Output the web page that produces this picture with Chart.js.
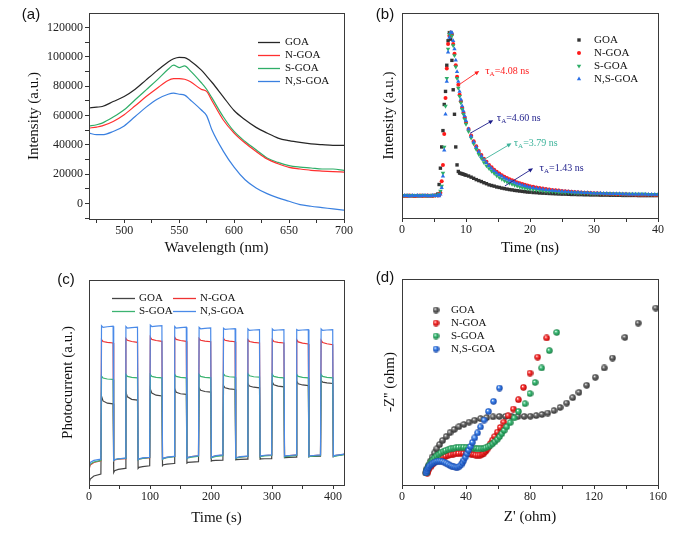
<!DOCTYPE html>
<html><head><meta charset="utf-8">
<script src="https://cdn.jsdelivr.net/npm/chart.js@4.4.0/dist/chart.umd.min.js"></script>
<style>
html,body{margin:0;padding:0;background:#fff;}
#wrap{position:relative;width:683px;height:538px;overflow:hidden;background:#fff;}
canvas{position:absolute;left:0;top:0;}
</style></head><body>
<div id="wrap">
<canvas id="ca" width="683" height="538"></canvas>
<canvas id="cb" width="683" height="538"></canvas>
<canvas id="cc" width="683" height="538"></canvas>
<canvas id="cd" width="683" height="538"></canvas>
</div>
<script>
// ================= DATA =================
const seriesNames = ['GOA', 'N-GOA', 'S-GOA', 'N,S-GOA'];

// tick values (labels are shown on the major ones)
const aXTicks = [475,500,525,550,575,600,625,650,675,700];
const aYTicks = [-10000,0,10000,20000,30000,40000,50000,60000,70000,80000,90000,100000,110000,120000];
const bXTicks = [0,5,10,15,20,25,30,35,40];
const cXTicks = [0,50,100,150,200,250,300,350,400];
const dXTicks = [0,20,40,60,80,100,120,140,160];

// (a) PL spectra
const plWavelength = [468,475,480,490,500,510,520,530,540,545,550,555,560,570,575,580,590,600,610,620,630,640,650,660,670,680,690,700];
const plGOA  = [65200,65800,66200,69600,73000,78000,84400,90700,96600,98800,99800,99600,97500,91200,87000,82600,73000,63500,57200,52000,48100,44700,42900,41700,40800,40200,39700,39700];
const plNGOA = [51500,52200,53000,56000,60600,66700,73000,78700,84000,85200,85300,84800,83300,78000,76500,70000,57200,48100,41300,35600,30400,27200,24700,23600,22700,22200,21800,21500];
const plSGOA = [53000,53800,54900,59000,64000,70800,77600,84400,91600,94400,92800,93900,90700,82600,78000,71900,59400,49200,42400,36700,31100,28100,25900,24900,24300,23600,23600,22700];
const plNSGOA= [48100,47000,47000,49200,53000,59400,65800,71200,74600,75300,74600,74000,70800,64000,60000,50000,36000,24900,16300,10700,6800,3900,1600,-700,-1800,-2700,-3600,-4500];

// (b) TRPL decay (normalised intensity)
const trTime = [0,0.4,0.8,1.2,1.6,2.0,2.4,2.8,3.2,3.6,4.0,4.4,4.8,5.2,5.6,
  5.8,6.0,6.2,6.4,6.6,6.8,7.0,7.2,7.4,7.6,7.8,8.0,8.2,8.4,8.6,8.8,9.0,9.2,9.4,9.6,9.8,10.0,
  10.4,10.8,11.2,11.6,12.0,12.4,12.8,13.2,13.6,14.0,14.4,14.8,15.2,15.6,16.0,16.4,16.8,17.2,17.6,18.0,18.4,18.8,19.2,19.6,20.0,
  20.5,21,21.5,22,22.5,23,23.5,24,24.5,25,25.5,26,26.5,27,27.5,28,28.5,29,29.5,30,30.5,31,31.5,32,32.5,33,33.5,34,34.5,35,35.5,36,36.5,37,37.5,38,38.5,39,39.5,40];
const trGOA = [0.002,0.001,0.003,0.001,0.002,0.000,0.002,0.001,0.003,0.002,0.001,0.002,0.003,0.004,0.012,
  0.07,0.17,0.30,0.40,0.56,0.64,0.80,0.95,1.00,0.96,0.83,0.65,0.50,0.30,0.19,0.15,0.14,0.138,0.135,0.133,0.130,0.127,
  0.122,0.115,0.108,0.100,0.094,0.088,0.081,0.075,0.068,0.064,0.060,0.055,0.052,0.048,0.045,0.042,0.039,0.037,0.034,0.032,0.030,0.028,0.026,0.024,0.023,
  0.021,0.020,0.018,0.017,0.016,0.015,0.014,0.013,0.012,0.011,0.011,0.010,0.009,0.009,0.008,0.008,0.007,0.007,0.006,0.006,
  0.006,0.005,0.005,0.005,0.004,0.004,0.004,0.004,0.003,0.003,0.003,0.003,0.003,0.002,0.002,0.002,0.002,0.002,0.002,0.002];
const trNGOA = [0.000,0.001,0.000,0.002,0.001,0.000,0.001,0.002,0.000,0.001,0.002,0.001,0.000,0.002,0.003,
  0.005,0.02,0.09,0.19,0.38,0.60,0.78,0.93,0.98,1.00,0.99,0.93,0.87,0.80,0.73,0.68,0.62,0.58,0.54,0.51,0.48,0.45,
  0.41,0.37,0.335,0.305,0.275,0.25,0.228,0.21,0.19,0.175,0.16,0.148,0.138,0.126,0.118,0.11,0.102,0.096,0.09,0.083,0.078,0.073,0.068,0.064,0.06,
  0.056,0.052,0.049,0.046,0.043,0.040,0.037,0.035,0.033,0.031,0.029,0.027,0.026,0.024,0.023,0.021,0.020,0.019,0.018,0.017,
  0.016,0.015,0.014,0.013,0.013,0.012,0.011,0.011,0.010,0.010,0.009,0.009,0.008,0.008,0.008,0.007,0.007,0.007,0.006,0.006];
const trSGOA = [0.003,0.004,0.003,0.004,0.003,0.004,0.003,0.004,0.003,0.004,0.003,0.004,0.003,0.004,0.006,
  0.01,0.03,0.06,0.14,0.30,0.55,0.72,0.90,0.99,1.00,0.98,0.92,0.86,0.79,0.72,0.66,0.61,0.57,0.53,0.50,0.47,0.44,
  0.395,0.355,0.32,0.285,0.255,0.23,0.205,0.185,0.168,0.152,0.138,0.125,0.113,0.103,0.094,0.086,0.079,0.072,0.066,0.061,0.056,0.052,0.048,0.045,0.042,
  0.039,0.036,0.034,0.032,0.030,0.028,0.027,0.025,0.024,0.023,0.022,0.021,0.020,0.019,0.019,0.018,0.017,0.017,0.016,0.016,
  0.015,0.015,0.014,0.014,0.014,0.013,0.013,0.013,0.012,0.012,0.012,0.012,0.011,0.011,0.011,0.011,0.010,0.010,0.010,0.010];
const trNSGOA = [0.001,0.002,0.001,0.000,0.002,0.001,0.002,0.000,0.001,0.002,0.001,0.000,0.002,0.001,0.002,
  0.00,0.01,0.05,0.12,0.28,0.50,0.70,0.88,0.97,1.00,1.00,0.95,0.90,0.83,0.76,0.70,0.64,0.59,0.55,0.52,0.49,0.46,
  0.41,0.365,0.33,0.30,0.27,0.245,0.222,0.203,0.185,0.168,0.154,0.141,0.13,0.12,0.11,0.102,0.095,0.088,0.082,0.076,0.071,0.066,0.062,0.058,0.054,
  0.050,0.047,0.044,0.041,0.038,0.036,0.034,0.032,0.030,0.028,0.027,0.025,0.024,0.023,0.022,0.021,0.020,0.019,0.018,0.017,
  0.016,0.016,0.015,0.015,0.014,0.014,0.013,0.013,0.012,0.012,0.011,0.011,0.011,0.010,0.010,0.010,0.009,0.009,0.009,0.009];
const trLifetimes = ['=4.08 ns', '=4.60 ns', '=3.79 ns', '=1.43 ns'];

// (c) transient photocurrent (arbitrary units)
const pcTime = [0,2,8,19.5,20.5,23,30,39.5,
  40.5,42,48,59.5,60.5,63,70,79.5,
  80.5,82,88,99.5,100.5,103,110,119.5,
  120.5,122,128,139.5,140.5,143,150,159.5,
  160.5,162,168,179.5,180.5,183,190,199.5,
  200.5,202,208,219.5,220.5,223,230,239.5,
  240.5,242,248,259.5,260.5,263,270,279.5,
  280.5,282,288,299.5,300.5,303,310,319.5,
  320.5,322,328,339.5,340.5,343,350,359.5,
  360.5,362,368,379.5,380.5,383,390,399.5,
  400.5,402,410,418];
const pcGOA = [1.0,2.9,4.4,5.3,43.4,41.0,39.9,39.6,
  6.1,7.0,7.6,8.1,45.3,43.0,41.8,41.4,
  8.1,8.6,9.0,9.4,46.9,44.8,43.8,43.4,
  9.4,9.9,10.2,10.5,46.9,45.2,44.5,44.2,
  10.7,11.0,11.2,11.4,47.4,46.2,45.6,45.3,
  11.7,11.9,12.0,12.1,48.5,47.4,46.9,46.6,
  12.3,12.4,12.5,12.6,49.4,48.3,47.7,47.4,
  12.6,12.7,12.8,12.9,50.2,48.9,48.2,47.9,
  13.3,13.4,13.5,13.6,50.6,49.4,48.8,48.5,
  13.8,13.9,14.0,14.1,51.0,50.2,49.8,49.5,
  14.2,14.4,14.6,14.9];
const pcNGOA = [7.4,9.8,11.0,11.8,70.9,70.0,69.6,69.3,
  11.8,12.2,12.6,12.9,71.5,70.6,70.0,69.6,
  12.3,12.7,13.0,13.3,72.2,71.0,70.5,70.1,
  12.6,13.0,13.5,13.9,72.0,71.0,70.5,70.1,
  12.9,13.4,13.8,14.2,71.5,70.6,70.2,69.9,
  13.3,13.7,14.2,14.6,71.5,70.6,70.2,69.9,
  13.0,13.3,13.7,14.0,70.9,70.0,69.6,69.3,
  13.9,14.1,14.4,14.6,70.9,70.0,69.6,69.3,
  13.9,14.1,14.3,14.6,70.9,69.8,69.2,68.8,
  13.9,14.1,14.3,14.6,70.6,69.5,68.9,68.4,
  13.9,14.2,14.6,15.0];
const pcSGOA = [8.2,10.2,11.2,12.0,53.1,52.2,51.7,51.5,
  11.9,12.3,12.7,13.0,53.9,53.0,52.5,52.3,
  12.2,12.6,13.0,13.4,53.9,53.0,52.5,52.3,
  12.5,12.9,13.4,13.8,53.9,53.0,52.5,52.3,
  12.8,13.2,13.6,14.0,53.9,53.0,52.5,52.3,
  13.1,13.5,14.0,14.3,54.2,53.3,52.8,52.6,
  12.9,13.2,13.6,13.9,54.2,53.3,52.8,52.6,
  13.6,13.9,14.2,14.4,53.9,53.0,52.5,52.3,
  13.6,13.9,14.1,14.4,53.9,53.0,52.5,52.3,
  13.7,13.9,14.1,14.4,53.9,53.0,52.5,52.3,
  13.8,14.0,14.4,14.8];
const pcNSGOA = [9.1,11.0,12.0,12.6,77.7,76.9,77.2,77.5,
  12.0,12.4,12.8,13.1,77.3,76.5,76.8,77.0,
  12.4,12.8,13.2,13.5,78.0,77.3,77.5,77.7,
  12.7,13.1,13.6,14.0,77.3,76.5,76.8,77.0,
  13.0,13.5,13.9,14.3,76.9,76.2,76.4,76.6,
  13.3,13.8,14.3,14.7,76.5,75.9,76.1,76.3,
  13.1,13.4,13.8,14.1,76.1,75.4,75.6,75.8,
  14.0,14.2,14.5,14.7,76.1,75.4,75.6,75.8,
  14.0,14.2,14.4,14.7,75.8,75.4,75.6,75.8,
  14.0,14.2,14.4,14.7,76.1,75.4,75.6,75.8,
  14.0,14.3,14.7,15.1];

// (d) Nyquist plots, Z' and -Z'' in ohm
const eisGOA_re = [14.8,15.6,16.6,17.7,18.8,20.2,21.8,23.5,25.4,27.6,30.0,32.6,35.6,38.7,41.9,45.4,49.1,53.0,56.9,60.8,64.7,68.6,72.5,76.4,80.2,83.9,87.5,91.1,95.0,98.8,102.9,106.7,110.6,115.4,120.8,126.4,131.6,139.3,147.6,158.6];
const eisGOA_im = [7.6,10.0,12.3,14.9,17.4,20.0,22.6,25.2,27.8,30.2,32.6,34.6,36.4,37.8,39.2,40.4,41.4,42.1,42.5,42.8,42.8,42.8,42.8,42.8,42.9,43.3,44.0,44.9,46.4,48.4,51.1,54.5,57.8,62.2,67.2,73.0,79.2,92.1,101.0,110.4];
const eisN_re = [15.8,16.2,16.8,17.5,18.3,19.3,20.4,21.6,22.9,24.3,25.8,27.3,28.9,30.5,32.1,33.7,35.3,36.9,38.5,40.1,41.7,43.2,44.7,46.1,47.5,48.8,50.0,51.2,52.3,53.3,54.3,55.4,56.6,58.0,59.6,61.4,63.6,66.3,69.6,72.8,75.9,80.0,84.8,90.4];
const eisN_im = [7.4,8.6,9.8,11.0,12.1,13.2,14.2,15.1,15.9,16.6,17.3,17.9,18.4,18.8,19.2,19.5,19.7,19.8,19.8,19.7,19.5,19.2,18.9,18.7,18.6,18.7,19.1,19.9,21.0,22.4,24.0,25.9,28.0,30.3,33.0,35.9,39.2,43.2,47.4,53.2,60.9,69.8,79.8,91.7];
const eisS_re = [15.2,15.6,16.1,16.7,17.4,18.3,19.3,20.4,21.6,22.9,24.3,25.8,27.3,28.9,30.5,32.1,33.7,35.3,36.9,38.5,40.1,41.7,43.3,44.9,46.5,48.0,49.5,51.0,52.4,53.8,55.1,56.6,58.1,59.6,61.0,62.4,63.8,65.5,67.6,70.1,72.8,76.9,80.0,83.2,87.3,92.1,96.7];
const eisS_im = [7.6,8.9,10.3,11.7,13.1,14.5,15.8,17.0,18.1,19.1,20.0,20.8,21.5,22.1,22.6,23.0,23.3,23.5,23.6,23.6,23.5,23.3,23.1,22.9,22.7,22.6,22.6,22.8,23.2,23.8,24.6,25.7,27.0,28.5,30.2,32.0,34.0,36.3,38.9,41.8,45.9,50.7,57.0,64.0,73.0,83.8,95.2];
const eisNS_re = [15.0,15.4,15.9,16.6,17.4,18.3,19.3,20.4,21.6,22.8,24.0,25.2,26.4,27.6,28.8,30.0,31.2,32.4,33.6,34.8,35.9,36.9,37.8,38.7,39.6,40.6,41.6,42.7,44.0,45.5,47.2,49.1,51.3,54.0,57.2,60.9];
const eisNS_im = [7.6,8.8,10.0,11.1,12.1,13.0,13.7,14.3,14.7,14.9,14.9,14.7,14.3,13.7,13.0,12.3,11.7,11.3,11.1,11.2,11.7,12.6,13.9,15.5,17.4,19.5,21.7,24.0,26.6,29.4,32.5,36.2,40.5,45.9,52.2,60.5];

// ================= STYLE / HELPERS =================
const SERIF = '"Liberation Serif","Times New Roman",serif';
const SANS = '"Liberation Sans",Arial,sans-serif';
Chart.defaults.font.family = SERIF;
Chart.defaults.color = '#111';
const PW = 683, PH = 538;

function padFor(area, yW, xH) {
  return {left: area.l - yW, top: area.t, right: PW - area.r, bottom: PH - area.b - xH};
}
function xy(xs, ys) { return xs.map((v, i) => ({x: v, y: ys[i]})); }
const majorLabel = (every) => (v) => (Math.abs(v % every) < 1e-6 ? String(v) : '');

function xAxis(o) {
  return {
    type: 'linear', position: 'bottom', min: o.min, max: o.max,
    afterBuildTicks: (s) => { s.ticks = o.ticks.map(v => ({value: v})); },
    ticks: {autoSkip: false, maxRotation: 0, minRotation: 0, padding: 1,
      font: {family: SERIF, size: 12}, color: '#222', callback: majorLabel(o.every)},
    grid: {display: true, drawOnChartArea: false, drawTicks: true, tickLength: 4, tickColor: '#333', tickWidth: 1},
    border: {display: false},
    title: {display: true, text: o.title, font: {family: SERIF, size: 15}, color: '#111', padding: {top: 0, bottom: o.tpb}},
    afterFit: (s) => { s.height = o.h; }
  };
}
function yAxisBare(o) {
  return {
    type: 'linear', position: 'left', min: o.min, max: o.max,
    ticks: {display: false}, grid: {display: false}, border: {display: false},
    title: {display: true, text: o.title, font: {family: SERIF, size: 15}, color: '#111', padding: {top: o.tpt, bottom: 0}},
    afterFit: (s) => { s.width = o.w; }
  };
}

const decor = {
  id: 'decor',
  afterDraw(chart, args, o) {
    const ctx = chart.ctx, a = chart.chartArea;
    ctx.save();
    ctx.strokeStyle = '#3a3a3a'; ctx.lineWidth = 1;
    ctx.strokeRect(Math.round(a.left) + 0.5, Math.round(a.top) + 0.5, Math.round(a.right - a.left), Math.round(a.bottom - a.top));
    if (o.label) {
      ctx.font = '15px ' + SANS; ctx.fillStyle = '#111'; ctx.textAlign = 'center'; ctx.textBaseline = 'middle';
      ctx.fillText(o.label.text, o.label.x, o.label.y);
    }
    if (o.legend) {
      const L = o.legend;
      ctx.font = L.size + 'px ' + SERIF; ctx.textBaseline = 'middle'; ctx.textAlign = 'left';
      chart.data.datasets.forEach((ds, i) => {
        const p = L.items[i]; if (!p) return;
        if (L.kind === 'line') {
          ctx.strokeStyle = ds.borderColor; ctx.lineWidth = 1.3;
          ctx.beginPath(); ctx.moveTo(p.x, p.y + 0.5); ctx.lineTo(p.x + L.len, p.y + 0.5); ctx.stroke();
        } else {
          ctx.fillStyle = ds.backgroundColor;
          Chart.helpers.drawPoint(ctx, {pointStyle: ds.pointStyle, radius: ds.pointRadius, rotation: ds.pointRotation || 0, borderWidth: 0}, p.x, p.y);
        }
        ctx.fillStyle = '#111';
        ctx.fillText(ds.label, p.x + L.dx, p.y);
      });
    }
    if (o.notes) {
      const xs = chart.scales.x, ys = chart.scales.y;
      o.notes.forEach(n => {
        const x1 = xs.getPixelForValue(n.from[0]), y1 = ys.getPixelForValue(n.from[1]);
        const x2 = xs.getPixelForValue(n.to[0]), y2 = ys.getPixelForValue(n.to[1]);
        const ang = Math.atan2(y2 - y1, x2 - x1), hl = 5;
        ctx.strokeStyle = n.color; ctx.fillStyle = n.color; ctx.lineWidth = 0.9;
        ctx.beginPath(); ctx.moveTo(x1, y1); ctx.lineTo(x2 - hl * 0.7 * Math.cos(ang), y2 - hl * 0.7 * Math.sin(ang)); ctx.stroke();
        ctx.beginPath(); ctx.moveTo(x2, y2);
        ctx.lineTo(x2 - hl * Math.cos(ang - 0.45), y2 - hl * Math.sin(ang - 0.45));
        ctx.lineTo(x2 - hl * Math.cos(ang + 0.45), y2 - hl * Math.sin(ang + 0.45));
        ctx.closePath(); ctx.fill();
        let tx = xs.getPixelForValue(n.at[0]); const ty = ys.getPixelForValue(n.at[1]);
        ctx.textBaseline = 'middle'; ctx.textAlign = 'left';
        ctx.font = '11px ' + SERIF; ctx.fillText('τ', tx, ty); tx += ctx.measureText('τ').width;
        ctx.font = '7px ' + SERIF; ctx.fillText('A', tx, ty + 3); tx += ctx.measureText('A').width;
        ctx.font = '10px ' + SERIF; ctx.fillText(n.text, tx, ty);
      });
    }
    ctx.restore();
  }
};

const common = {responsive: false, animation: false, events: [], devicePixelRatio: 1};

// ================= (a) =================
const colA = ['#262626', '#ff3030', '#2fae68', '#3a80e0'];
const areaA = {l: 89, t: 13, r: 344, b: 219};
new Chart(document.getElementById('ca'), {
  type: 'line',
  data: {datasets: [plGOA, plNGOA, plSGOA, plNSGOA].map((ys, i) => ({
    label: seriesNames[i], data: xy(plWavelength, ys), borderColor: colA[i], backgroundColor: colA[i],
    borderWidth: 1.2, pointRadius: 0, tension: 0.35, cubicInterpolationMode: 'monotone'}))},
  options: Object.assign({}, common, {
    layout: {padding: padFor(areaA, 89, 42)},
    scales: {
      x: xAxis({min: 468, max: 700, ticks: aXTicks, every: 50, title: 'Wavelength (nm)', tpb: 4, h: 42}),
      y: {type: 'linear', position: 'left', min: -10500, max: 130000,
        afterBuildTicks: (s) => { s.ticks = aYTicks.map(v => ({value: v})); },
        ticks: {autoSkip: false, padding: 2, font: {family: SERIF, size: 12}, color: '#222', callback: majorLabel(20000)},
        grid: {display: true, drawOnChartArea: false, drawTicks: true, tickLength: 4, tickColor: '#333'},
        border: {display: false},
        title: {display: true, text: 'Intensity (a.u.)', font: {family: SERIF, size: 15}, color: '#111', padding: {top: 25, bottom: 0}},
        afterFit: (s) => { s.width = 89; }}
    },
    plugins: {legend: {display: false}, tooltip: {enabled: false},
      decor: {label: {text: '(a)', x: 31, y: 15},
        legend: {kind: 'line', size: 11, len: 22, dx: 27, items: [{x: 258, y: 42}, {x: 258, y: 55}, {x: 258, y: 68}, {x: 258, y: 81}]}}}
  }),
  plugins: [decor]
});

// ================= (b) =================
const colB = ['#333333', '#ff1a1a', '#2fae68', '#2a6fe6'];
const styleB = ['rect', 'circle', 'triangle', 'triangle'];
const rotB = [0, 0, 180, 0];
const radB = [2.4, 2.0, 2.6, 2.5];
const areaB = {l: 402, t: 13, r: 658, b: 218};
new Chart(document.getElementById('cb'), {
  type: 'scatter',
  data: {datasets: [trGOA, trNGOA, trSGOA, trNSGOA].map((ys, i) => ({
    label: seriesNames[i], data: xy(trTime, ys), borderColor: colB[i], backgroundColor: colB[i], borderWidth: 0,
    pointStyle: styleB[i], pointRotation: rotB[i], pointRadius: radB[i], order: 4 - i}))},
  options: Object.assign({}, common, {
    layout: {padding: padFor(areaB, 40, 42)},
    scales: {
      x: xAxis({min: 0, max: 40, ticks: bXTicks, every: 10, title: 'Time (ns)', tpb: 3, h: 42}),
      y: yAxisBare({min: -0.135, max: 1.12, title: 'Intensity (a.u.)', tpt: 18, w: 40})
    },
    plugins: {legend: {display: false}, tooltip: {enabled: false},
      decor: {label: {text: '(b)', x: 385, y: 15},
        legend: {kind: 'point', size: 11, dx: 15, items: [{x: 579, y: 40}, {x: 579, y: 53}, {x: 579, y: 66}, {x: 579, y: 79}]},
        notes: [
          {from: [8.8, 0.678], to: [12.07, 0.765], at: [13.0, 0.765], color: '#ff2020', text: trLifetimes[0]},
          {from: [10.62, 0.383], to: [14.25, 0.464], at: [14.8, 0.475], color: '#1c1c8a', text: trLifetimes[1]},
          {from: [12.7, 0.22], to: [17.1, 0.322], at: [17.45, 0.322], color: '#3cb39a', text: trLifetimes[2]},
          {from: [16.07, 0.061], to: [20.47, 0.169], at: [21.5, 0.169], color: '#1c1c8a', text: trLifetimes[3]}
        ]}}
  }),
  plugins: [decor]
});

// ================= (c) =================
const colC = ['#454545', '#ee3333', '#3cb371', '#4a8ae8'];
const areaC = {l: 89, t: 280, r: 344, b: 485};
new Chart(document.getElementById('cc'), {
  type: 'line',
  data: {datasets: [pcGOA, pcNGOA, pcSGOA, pcNSGOA].map((ys, i) => ({
    label: seriesNames[i], data: xy(pcTime, ys), borderColor: colC[i], backgroundColor: colC[i],
    borderWidth: 1.2, pointRadius: 0, tension: 0, order: 4 - i}))},
  options: Object.assign({}, common, {
    layout: {padding: padFor(areaC, 50, 42)},
    scales: {
      x: xAxis({min: 0, max: 418, ticks: cXTicks, every: 100, title: 'Time (s)', tpb: 0, h: 42}),
      y: yAxisBare({min: 0, max: 100, title: 'Photocurrent (a.u.)', tpt: 20, w: 50})
    },
    plugins: {legend: {display: false}, tooltip: {enabled: false},
      decor: {label: {text: '(c)', x: 66, y: 280},
        legend: {kind: 'line', size: 11, len: 23, dx: 27, items: [{x: 112, y: 298}, {x: 173, y: 298}, {x: 112, y: 311}, {x: 173, y: 311}]}}}
  }),
  plugins: [decor]
});

// ================= (d) =================
function sphere(color, dark) {
  const c = document.createElement('canvas'); c.width = 7; c.height = 7;
  const g = c.getContext('2d');
  const grad = g.createRadialGradient(2.5, 2.3, 0.2, 3.5, 3.5, 3.4);
  grad.addColorStop(0, '#ffffff'); grad.addColorStop(0.35, color); grad.addColorStop(1, dark);
  g.fillStyle = grad; g.beginPath(); g.arc(3.5, 3.5, 3.2, 0, Math.PI * 2); g.fill();
  return c;
}
const sphD = [sphere('#6e6e6e', '#2a2a2a'), sphere('#ff3535', '#b00000'), sphere('#3cc07a', '#17763e'), sphere('#3d86f0', '#123fa0')];
const areaD = {l: 402, t: 279, r: 658, b: 485};
const eisSets = [[eisGOA_re, eisGOA_im], [eisN_re, eisN_im], [eisS_re, eisS_im], [eisNS_re, eisNS_im]];
new Chart(document.getElementById('cd'), {
  type: 'scatter',
  data: {datasets: eisSets.map((s, i) => ({
    label: seriesNames[i], data: xy(s[0], s[1]), pointStyle: sphD[i], pointRadius: 3.5,
    backgroundColor: '#000', borderWidth: 0, order: 4 - i}))},
  options: Object.assign({}, common, {
    layout: {padding: padFor(areaD, 40, 42)},
    scales: {
      x: xAxis({min: 0, max: 160, ticks: dXTicks, every: 40, title: "Z' (ohm)", tpb: 1, h: 42}),
      y: yAxisBare({min: 0, max: 128.5, title: "-Z'' (ohm)", tpt: 19, w: 40})
    },
    plugins: {legend: {display: false}, tooltip: {enabled: false},
      decor: {label: {text: '(d)', x: 385, y: 278},
        legend: {kind: 'point', size: 11, dx: 15, items: [{x: 436, y: 310}, {x: 436, y: 323}, {x: 436, y: 336}, {x: 436, y: 349}]}}}
  }),
  plugins: [decor]
});
</script>
</body></html>
